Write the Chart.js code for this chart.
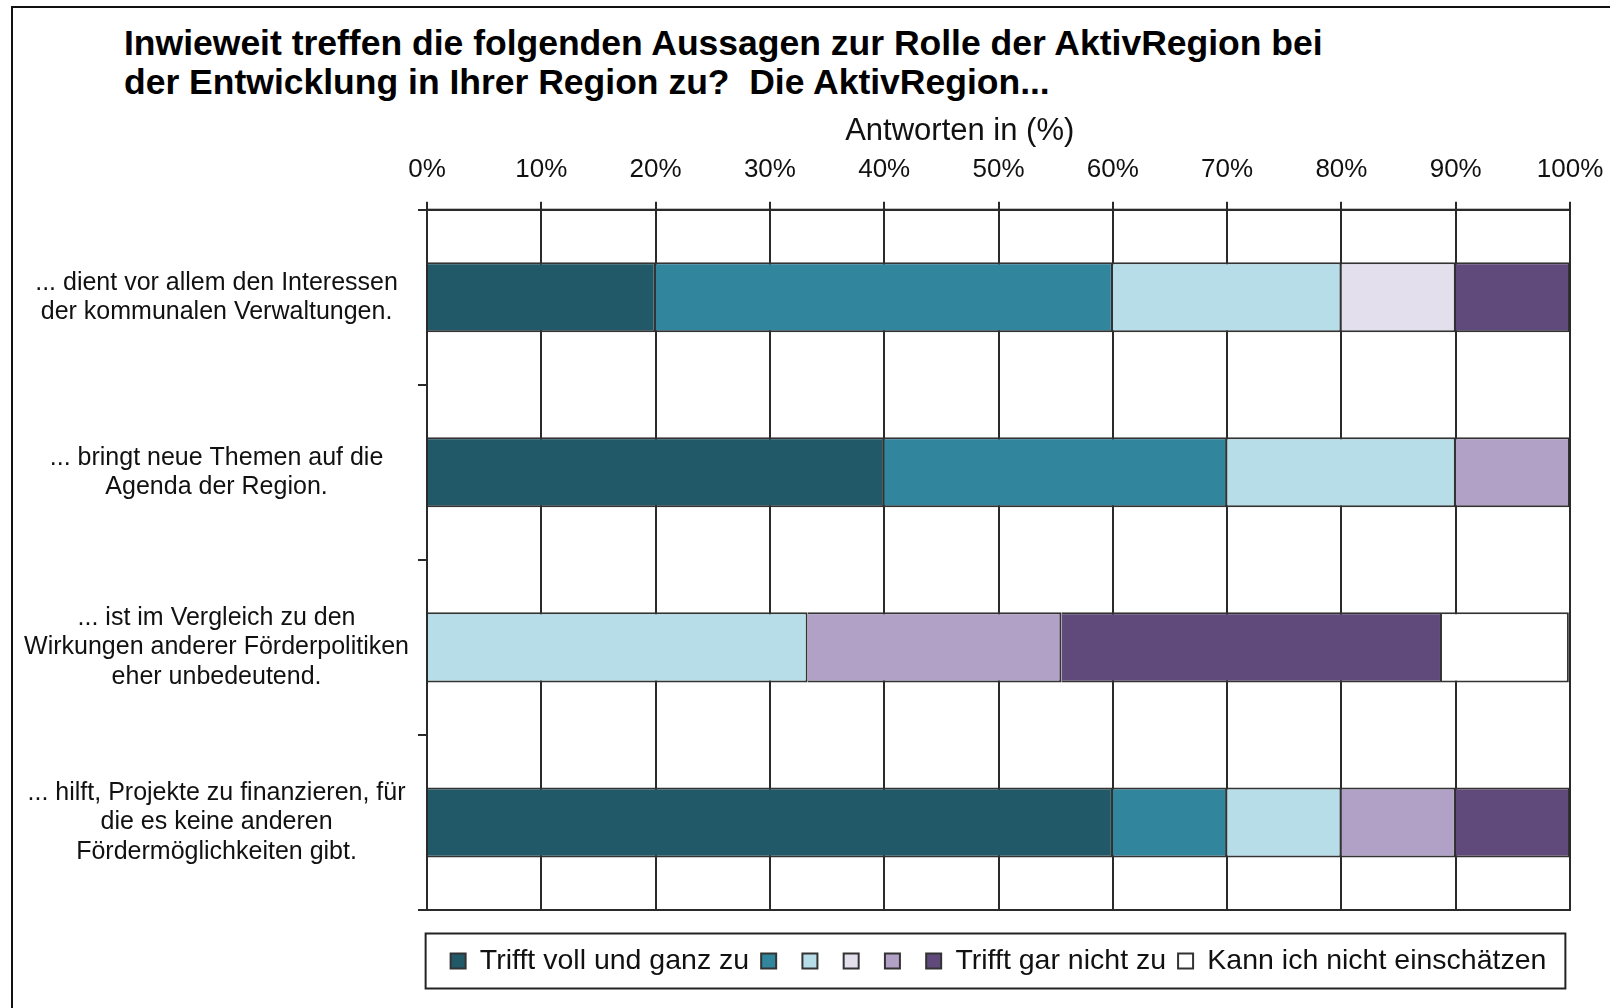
<!DOCTYPE html>
<html>
<head>
<meta charset="utf-8">
<title>AktivRegion</title>
<script src="https://cdn.jsdelivr.net/npm/chart.js@4/dist/chart.umd.min.js"></script>
<style>
    html, body { margin: 0; padding: 0; background: #fff; }
    #wrap { position: relative; width: 1610px; height: 1008px; overflow: hidden; }
    #frame { position: absolute; left: 11px; top: 6px; width: 1640px; height: 1040px;
             border-left: 2px solid #111; border-top: 2px solid #111; }
    #title { position: absolute; left: 124px; top: 24px; color: #000;
             font: bold 35.5px "Liberation Sans", Arial, sans-serif; line-height: 39px; white-space: nowrap; }
    canvas { position: absolute; left: 0; top: 0; }
</style>
</head>
<body>
<div id="wrap">
    <div id="frame"></div>
    <div id="title">Inwieweit treffen die folgenden Aussagen zur Rolle der AktivRegion bei<br>der Entwicklung in Ihrer Region zu?&nbsp; Die AktivRegion...</div>
    <canvas id="chart" width="1610" height="1008"></canvas>
</div>
<script>
// statements (y categories)
var aStatements = [
    ["... dient vor allem den Interessen", "der kommunalen Verwaltungen."],
    ["... bringt neue Themen auf die", "Agenda der Region."],
    ["... ist im Vergleich zu den", "Wirkungen anderer Förderpolitiken", "eher unbedeutend."],
    ["... hilft, Projekte zu finanzieren, für", "die es keine anderen", "Fördermöglichkeiten gibt."]
];

// answers in % per statement
var aVollUndGanz = [20, 40, 0, 60];
var aStufe2 = [40, 30, 0, 10];
var aStufe3 = [20, 20, 33.3, 10];
var aStufe4 = [10, 0, 0, 0];
var aStufe5 = [0, 10, 22.2, 10];
var aGarNicht = [10, 0, 33.3, 10];
var aKannNicht = [0, 0, 11.1, 0];

var aLegendLabels = ["Trifft voll und ganz zu", "", "", "", "", "Trifft gar nicht zu", "Kann ich nicht einschätzen"];
var aColors = ["#215968", "#31859C", "#B7DEE8", "#E4DFEC", "#B2A1C7", "#604A7B", "#FFFFFF"];

var sFont = '"Liberation Sans", Arial, sans-serif';
var sLine = "#2a2a2a";

function makeSet(i, aData) {
    return {
        label: aLegendLabels[i],
        data: aData,
        backgroundColor: aColors[i],
        borderColor: "#333333",
        borderWidth: 2,
        barPercentage: 0.4,
        categoryPercentage: 1.0
    };
}

// frame round the plot area and the legend
var framePlugin = {
    id: "frames",
    afterDraw: function (chart) {
        var ctx = chart.ctx;
        var a = chart.chartArea;
        ctx.save();
        ctx.strokeStyle = sLine;
        ctx.lineWidth = 2;
        ctx.strokeRect(a.left, a.top, a.right - a.left, a.bottom - a.top);

        var lg = chart.legend;
        if (lg && lg.legendHitBoxes && lg.legendHitBoxes.length) {
            var l = Infinity, r = -Infinity, cy = 0;
            lg.legendHitBoxes.forEach(function (h) {
                l = Math.min(l, h.left);
                r = Math.max(r, h.left + h.width);
                cy = h.top + h.height / 2;
            });
            ctx.strokeStyle = "#222";
            ctx.strokeRect(l - 25, cy - 27.5, (r - l) + 44, 55);
        }
        ctx.restore();
    }
};

new Chart(document.getElementById("chart"), {
    type: "bar",
    data: {
        labels: aStatements,
        datasets: [
            makeSet(0, aVollUndGanz),
            makeSet(1, aStufe2),
            makeSet(2, aStufe3),
            makeSet(3, aStufe4),
            makeSet(4, aStufe5),
            makeSet(5, aGarNicht),
            makeSet(6, aKannNicht)
        ]
    },
    options: {
        indexAxis: "y",
        responsive: false,
        animation: false,
        layout: { padding: { top: 115.5, right: 40, bottom: 22.75, left: 0 } },
        scales: {
            x: {
                position: "top",
                stacked: true,
                min: 0,
                max: 100,
                // the outer "100%" label fits in the layout padding, no extra room needed
                afterFit: function (scale) { scale.paddingLeft = 0; scale.paddingRight = 0; },
                ticks: {
                    stepSize: 10,
                    callback: function (v) { return v + "%"; },
                    font: { family: sFont, size: 26 },
                    color: "#111",
                    padding: 16,
                    maxRotation: 0
                },
                grid: { color: sLine, lineWidth: 2, tickLength: 8, tickColor: sLine },
                border: { color: sLine, width: 2 },
                title: {
                    display: true,
                    // trailing blanks move the centred title a little to the left, as in the original
                    text: "Antworten in (%)         ",
                    font: { family: sFont, size: 31, lineHeight: 1 },
                    color: "#111",
                    padding: { top: 0, bottom: -8 }
                }
            },
            y: {
                stacked: true,
                afterFit: function (scale) { scale.width = 427; },
                grid: { drawOnChartArea: false, tickLength: 9, color: sLine, lineWidth: 2, offset: true },
                border: { color: sLine, width: 2 },
                ticks: {
                    font: { family: sFont, size: 25, lineHeight: 1.17 },
                    color: "#111",
                    crossAlign: "center",
                    padding: 9
                }
            }
        },
        plugins: {
            title: { display: false },
            tooltip: { enabled: false },
            legend: {
                position: "bottom",
                fullSize: false,
                title: { display: true, text: "", font: { size: 10, lineHeight: 1 }, padding: { top: 0, bottom: 14.75 } },
                labels: {
                    boxWidth: 15,
                    boxHeight: 15,
                    padding: 12,
                    color: "#111",
                    font: { family: sFont, size: 28.5 }
                }
            }
        }
    },
    plugins: [framePlugin]
});
</script>
</body>
</html>
